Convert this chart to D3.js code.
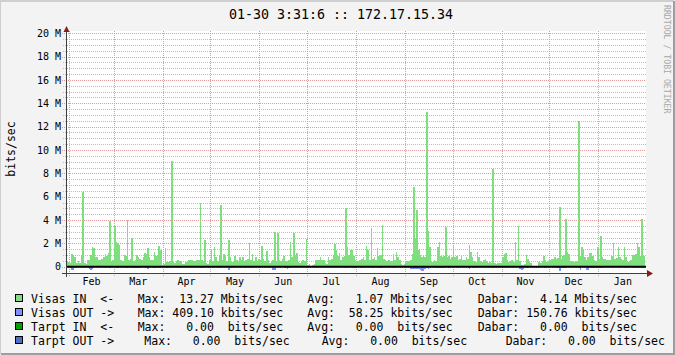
<!DOCTYPE html>
<html>
<head>
<meta charset="utf-8">
<script src="https://cdn.jsdelivr.net/npm/d3@7"></script>
<style>
body { margin: 0; background: #fff; }
svg text { font-family: "DejaVu Sans Mono", monospace; white-space: pre; }
</style>
</head>
<body>
<svg width="675" height="355"></svg>
<script>
// one year of daily values, Mbits/sec
let startTime = '2006-01-30T03:31:06Z';
let endTime = '2007-01-30T03:31:06Z';

let visasIn = [
  0.45,0.4,0.35,1.05,1.0,0.85,0.3,0.45,0.35,1.0,
  6.4,0.3,0.25,0.6,0.55,1.0,1.7,1.6,0.85,0.8,
  0.6,0.55,0.7,0.8,1.05,0.9,1.2,3.9,0.5,0.6,
  3.5,2.1,2.0,1.9,0.6,0.5,1.0,0.9,4.0,0.6,
  0.7,2.5,0.5,0.6,1.0,0.85,0.7,0.6,0.8,1.15,
  1.1,1.6,0.8,0.6,0.6,1.3,0.9,1.0,1.8,1.4,
  0.15,0.2,1.6,0.4,0.4,0.5,9.1,0.4,0.35,0.45,
  0.6,0.5,0.5,0.25,0.2,0.4,0.5,0.6,0.55,0.6,
  0.45,0.5,0.6,0.6,5.5,0.6,0.5,2.3,0.3,0.2,
  0.6,1.4,0.5,1.7,0.8,0.5,0.9,5.3,0.6,1.1,
  0.9,0.5,2.3,0.8,0.4,0.5,0.9,0.6,0.5,0.85,
  0.6,0.85,0.5,0.6,0.7,2.0,0.6,1.05,0.5,0.85,
  0.5,0.7,0.6,1.8,0.7,0.5,1.35,0.6,0.3,0.4,
  0.6,3.0,0.5,2.85,0.6,0.5,0.7,0.9,0.5,0.4,
  0.6,2.1,0.8,2.9,1.0,1.15,0.4,0.3,0.5,0.6,
  0.5,2.4,0.15,0.2,0.1,0.15,0.25,0.55,0.6,0.55,
  0.85,0.6,0.55,0.3,0.25,0.85,0.6,0.7,1.0,1.95,
  1.4,0.9,1.2,0.6,0.8,0.9,5.0,1.7,1.0,1.4,
  1.4,0.9,0.6,0.5,0.45,0.55,0.7,0.8,0.6,1.8,
  1.4,0.6,3.3,0.7,0.8,0.6,1.6,0.9,1.0,3.6,
  0.7,0.6,0.5,0.6,0.5,0.45,1.1,0.6,1.3,0.8,
  0.6,0.2,0.15,0.2,0.5,0.5,0.45,0.6,1.1,6.8,
  2.5,4.9,1.4,1.0,0.85,0.9,0.8,13.27,3.1,1.7,
  0.5,0.4,0.6,0.5,1.7,2.1,0.9,0.85,0.9,3.4,
  0.85,0.9,0.7,0.85,1.85,0.8,0.9,0.6,0.7,0.9,
  0.6,0.6,0.8,0.7,1.85,1.3,0.8,0.5,0.4,1.3,
  0.85,0.5,0.4,0.6,0.7,0.5,0.3,0.4,0.35,8.4,
  0.3,0.25,0.3,0.35,0.3,0.8,1.05,1.15,0.6,0.4,
  0.5,0.6,0.4,2.1,0.6,3.5,0.5,0.15,0.15,0.2,
  1.0,0.7,0.4,0.3,0,0,0,0,0.4,0.3,
  0.5,0.9,0.6,0.4,0.5,0.6,0.7,0.7,0.8,0.7,
  0.75,5.1,0.7,0.9,1.0,4.1,1.3,1.05,0.5,0.45,
  0.4,0.45,0.5,12.5,0.9,1.7,1.4,0.85,0.6,0.85,
  1.15,1.2,0.9,0.6,0.5,1.7,0.7,2.65,0.85,0.7,
  0.7,0.6,0.6,0.55,0.9,2.0,0.7,0.75,1.7,0.8,
  0.7,0.6,1.7,0.8,0.4,0.5,0.6,1.0,1.0,1.05,
  2.0,1.7,0.9,4.1,0.9
];

let visasOut = [
  0.05,0.04,0.06,0.25,0.28,0.1,0.05,0.04,0.05,0.06,
  0.08,0.05,0.04,0.06,0.22,0.25,0.2,0.12,0.05,0.06,
  0.05,0.04,0.06,0.05,0.07,0.06,0.05,0.08,0.05,0.06,
  0.12,0.15,0.12,0.06,0.05,0.06,0.05,0.07,0.08,0.06,
  0.05,0.12,0.15,0.14,0.15,0.14,0.12,0.06,0.05,0.06,
  0.12,0.2,0.06,0.05,0.13,0.14,0.12,0.05,0.13,0.05,
  0.04,0.05,0.06,0.12,0.14,0.06,0.05,0.05,0.06,0.05,
  0.04,0.15,0.05,0.04,0.05,0.06,0.05,0.05,0.06,0.05,
  0.05,0.04,0.05,0.06,0.1,0.12,0.06,0.05,0.04,0.05,
  0.15,0.06,0.05,0.06,0.05,0.05,0.12,0.05,0.06,0.05,
  0.05,0.06,0.3,0.05,0.12,0.05,0.06,0.05,0.06,0.05,
  0.05,0.06,0.05,0.1,0.05,0.06,0.12,0.05,0.05,0.06,
  0.05,0.06,0.05,0.04,0.05,0.06,0.05,0.05,0.12,0.05,
  0.3,0.25,0.06,0.05,0.04,0.05,0.06,0.05,0.15,0.18,
  0.15,0.06,0.05,0.06,0.05,0.04,0.05,0.06,0.05,0.05,
  0.05,0.06,0.04,0.05,0.04,0.05,0.06,0.05,0.06,0.05,
  0.05,0.06,0.05,0.06,0.05,0.05,0.06,0.05,0.06,0.05,
  0.05,0.06,0.05,0.06,0.05,0.05,0.1,0.05,0.06,0.05,
  0.12,0.1,0.11,0.05,0.06,0.05,0.1,0.05,0.06,0.05,
  0.05,0.06,0.05,0.1,0.05,0.06,0.05,0.1,0.12,0.1,
  0.05,0.06,0.05,0.06,0.05,0.05,0.1,0.05,0.06,0.05,
  0.05,0.06,0.05,0.1,0.05,0.06,0.05,0.2,0.2,0.22,
  0.2,0.22,0.2,0.3,0.4,0.38,0.2,0.15,0.2,0.1,
  0.05,0.06,0.05,0.15,0.15,0.14,0.15,0.15,0.12,0.06,
  0.05,0.1,0.05,0.06,0.05,0.05,0.06,0.1,0.06,0.05,
  0.05,0.06,0.05,0.06,0.2,0.05,0.06,0.1,0.06,0.05,
  0.05,0.06,0.05,0.06,0.05,0.05,0.06,0.05,0.06,0.15,
  0.05,0.06,0.05,0.06,0.05,0.15,0.12,0.06,0.05,0.05,
  0.05,0.06,0.05,0.06,0.05,0.05,0.2,0.25,0.2,0.05,
  0.06,0.1,0.05,0.04,0,0,0,0,0.05,0.05,
  0.04,0.05,0.1,0.05,0.06,0.05,0.06,0.05,0.05,0.06,
  0.1,0.41,0.12,0.15,0.15,0.12,0.06,0.05,0.05,0.06,
  0.05,0.06,0.05,0.1,0.3,0.06,0.05,0.05,0.25,0.3,
  0.12,0.15,0.14,0.15,0.05,0.1,0.12,0.1,0.05,0.06,
  0.05,0.06,0.05,0.05,0.06,0.05,0.06,0.05,0.06,0.05,
  0.05,0.06,0.05,0.1,0.05,0.06,0.05,0.06,0.15,0.12,
  0.1,0.15,0.12,0.15,0.1
];

let yTicks = [0, 2, 4, 6, 8, 10, 12, 14, 16, 18, 20];
let yTickLabels = ['0', '2 M', '4 M', '6 M', '8 M', '10 M', '12 M', '14 M', '16 M', '18 M', '20 M'];
let monthLabels = ['Feb', 'Mar', 'Apr', 'May', 'Jun', 'Jul', 'Aug', 'Sep', 'Oct', 'Nov', 'Dec', 'Jan'];

let legendNames = ['Visas IN  <-', 'Visas OUT ->', 'Tarpt IN  <-', 'Tarpt OUT ->'];
let legendColors = ['#7fdf7f', '#7f8fff', '#00a000', '#4f6fc8'];
let maxValues = [13.27, 409.10, 0.00, 0.00];
let maxPrefix = ['M', 'k', ' ', ' '];
let avgValues = [1.07, 58.25, 0.00, 0.00];
let avgPrefix = ['M', 'k', ' ', ' '];
let dabarValues = [4.14, 150.76, 0.00, 0.00];
let dabarPrefix = ['M', 'k', ' ', ' '];

let title = '01-30 3:31:6 :: 172.17.15.34';

let svg = d3.select('svg');
let plotLeft = 66.5, plotRight = 646, plotTop = 31, plotBottom = 273.5;

let x = d3.scaleUtc()
    .domain([new Date(startTime), new Date(endTime)])
    .range([66.5, 644.5]);
let y = d3.scaleLinear()
    .domain([0, 20])
    .range([266.7, 33.3]);

// background and frame
svg.append('rect').attr('width', 675).attr('height', 355).attr('fill', '#f3f3f3');
svg.append('path').attr('d', 'M0,354V1H674').attr('stroke', '#cfcfcf').attr('stroke-width', 2).attr('fill', 'none');
svg.append('path').attr('d', 'M1,354H674V1').attr('stroke', '#9e9e9e').attr('stroke-width', 2).attr('fill', 'none');

svg.append('rect')
    .attr('x', plotLeft).attr('y', plotTop)
    .attr('width', plotRight - plotLeft).attr('height', plotBottom - plotTop)
    .attr('fill', '#ffffff');

// grid
let grid = svg.append('g').attr('shape-rendering', 'crispEdges');
let minor = d3.range(0.5, 20, 0.5).filter(v => v % 2 != 0);
grid.selectAll('.minor')
    .data(minor)
    .enter()
    .append('line')
    .attr('x1', 63).attr('x2', plotRight)
    .attr('y1', d => Math.round(y(d)) + 0.5)
    .attr('y2', d => Math.round(y(d)) + 0.5)
    .attr('stroke', '#bdbdbd')
    .attr('stroke-dasharray', '1,1');

grid.selectAll('.major')
    .data(yTicks)
    .enter()
    .append('line')
    .attr('x1', 62).attr('x2', plotRight)
    .attr('y1', d => Math.round(y(d)) + 0.5)
    .attr('y2', d => Math.round(y(d)) + 0.5)
    .attr('stroke', '#e39a9a')
    .attr('stroke-dasharray', '1,1');

let months = d3.utcMonth.range(new Date(startTime), new Date(endTime));
grid.selectAll('.vgrid')
    .data(months)
    .enter()
    .append('line')
    .attr('x1', d => Math.round(x(d)) + 0.5)
    .attr('x2', d => Math.round(x(d)) + 0.5)
    .attr('y1', plotTop)
    .attr('y2', plotBottom + 3)
    .attr('stroke', '#e39a9a')
    .attr('stroke-dasharray', '1,1');

// data
let day = 864e5;
let t0 = new Date(startTime).getTime();
function toPoints(arr) {
    let pts = arr.map((v, i) => ({ t: new Date(t0 + i * day), v: v }));
    pts.push({ t: new Date(endTime), v: arr[arr.length - 1] });
    return pts;
}

let areaIn = d3.area()
    .x(d => x(d.t))
    .y0(y(0))
    .y1(d => y(d.v))
    .curve(d3.curveStepAfter);
let areaOut = d3.area()
    .x(d => x(d.t))
    .y0(y(0))
    .y1(d => y(-d.v))
    .curve(d3.curveStepAfter);

svg.append('path')
    .datum(toPoints(visasIn))
    .attr('d', areaIn)
    .attr('fill', legendColors[0])
    .attr('shape-rendering', 'crispEdges');
svg.append('path')
    .datum(toPoints(visasOut))
    .attr('d', areaOut)
    .attr('fill', legendColors[1])
    .attr('shape-rendering', 'crispEdges');

// zero rule
svg.append('line')
    .attr('x1', plotLeft).attr('x2', plotRight)
    .attr('y1', y(0)).attr('y2', y(0))
    .attr('stroke', '#000').attr('stroke-width', 2);

// axes
svg.append('line')
    .attr('x1', 62).attr('x2', 648)
    .attr('y1', plotBottom).attr('y2', plotBottom)
    .attr('stroke', '#404040').attr('shape-rendering', 'crispEdges');
svg.append('line')
    .attr('x1', plotLeft).attr('x2', plotLeft)
    .attr('y1', plotBottom + 3).attr('y2', 30)
    .attr('stroke', '#404040').attr('shape-rendering', 'crispEdges');
svg.append('path').attr('d', 'M647,270L653,273.5L647,277Z').attr('fill', '#8c1a1a');
svg.append('path').attr('d', 'M63.5,32L66.5,26L69.5,32Z').attr('fill', '#8c1a1a');

// labels
svg.selectAll('.ylab')
    .data(yTicks)
    .enter()
    .append('text')
    .attr('x', 61)
    .attr('y', d => y(d) + 3.6)
    .attr('text-anchor', 'end')
    .attr('font-size', '10px')
    .text((d, i) => yTickLabels[i]);

svg.selectAll('.xlab')
    .data(months)
    .enter()
    .append('text')
    .attr('x', d => x(new Date((d.getTime() + d3.utcMonth.offset(d, 1).getTime()) / 2)))
    .attr('y', 285)
    .attr('text-anchor', 'middle')
    .attr('font-size', '10px')
    .text((d, i) => monthLabels[i]);

svg.append('text')
    .attr('x', 341).attr('y', 18.5)
    .attr('text-anchor', 'middle')
    .attr('font-size', '13.3px')
    .text(title);

svg.append('text')
    .attr('transform', 'translate(15,149) rotate(-90)')
    .attr('text-anchor', 'middle')
    .attr('font-size', '11.5px')
    .text('bits/sec');

svg.append('text')
    .attr('transform', 'translate(664,5) rotate(90)')
    .attr('font-size', '8.2px')
    .attr('fill', '#a8a8a8')
    .text('RRDTOOL / TOBI OETIKER');

// legend
function fmt(label, v, p) {
    return label + ' ' + v.toFixed(2).padStart(6) + ' ' + p + 'bits/sec';
}
let colX = [[31, 137.7, 307.3, 477.7], [31, 137.7, 307.3, 477.7], [31, 137.7, 307.3, 477.7], [31, 144.3, 321.7, 505.7]];

legendNames.forEach(function(name, i) {
    let by = 302.7 + i * 14.1;
    svg.append('rect')
        .attr('x', 15.5).attr('y', by - 8.2)
        .attr('width', 7).attr('height', 7)
        .attr('fill', legendColors[i])
        .attr('stroke', '#000')
        .attr('shape-rendering', 'crispEdges');
    let items = [name, fmt('Max:', maxValues[i], maxPrefix[i]), fmt('Avg:', avgValues[i], avgPrefix[i]), fmt('Dabar:', dabarValues[i], dabarPrefix[i])];
    items.forEach(function(s, j) {
        svg.append('text')
            .attr('x', colX[i][j]).attr('y', by)
            .attr('font-size', '11.5px')
            .text(s);
    });
});
</script>
</body>
</html>
